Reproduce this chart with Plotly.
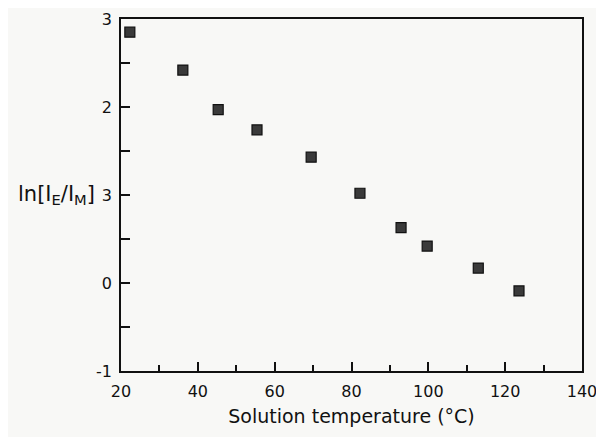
import plotly.graph_objects as go

temperature_c = [22.3, 36.1, 45.3, 55.4, 69.5, 82.2, 92.9, 99.7, 113.0, 123.6]
ln_ratio = [2.85, 2.42, 1.97, 1.74, 1.43, 1.02, 0.63, 0.42, 0.17, -0.09]

x_tickvals = [20, 40, 60, 80, 100, 120, 140]
x_ticktext = ["20", "40", "60", "80", "100", "120", "140"]
y_tickvals = [-1, 0, 1, 2, 3]
y_ticktext = ["-1", "0", "3", "2", "3"]

font_family = "DejaVu Sans"

fig = go.Figure()
fig.add_trace(go.Scatter(
    x=temperature_c, y=ln_ratio, mode="markers",
    marker=dict(symbol="square", size=10, color="#3a3a3a",
                line=dict(color="#111111", width=1.2)),
    showlegend=False, cliponaxis=False,
))

fig.update_layout(
    width=596, height=429,
    margin=dict(l=113, r=22, t=11, b=66),
    paper_bgcolor="#f8f8f6", plot_bgcolor="#f8f8f6",
    font=dict(family=font_family, size=16, color="#111111"),
    xaxis=dict(
        range=[20, 140], tickvals=x_tickvals, ticktext=x_ticktext,
        ticks="inside", ticklen=9, tickwidth=1.5, tickcolor="#111",
        minor=dict(ticks="inside", ticklen=6, dtick=10, tickwidth=1.5, tickcolor="#111"),
        showline=True, linecolor="#111", linewidth=1.8, mirror=True,
        showgrid=False, zeroline=False, ticklabelstandoff=5, automargin=False,
        title=dict(text="Solution temperature (°C)", font=dict(size=19), standoff=10),
    ),
    yaxis=dict(
        range=[-1, 3], tickvals=y_tickvals, ticktext=y_ticktext,
        ticks="inside", ticklen=9, tickwidth=1.5, tickcolor="#111",
        minor=dict(ticks="inside", ticklen=9, dtick=0.5, tickwidth=1.5, tickcolor="#111"),
        showline=True, linecolor="#111", linewidth=1.8, mirror=True,
        showgrid=False, zeroline=False, ticklabelstandoff=4, automargin=False,
    ),
    annotations=[dict(
        text="ln[I<sub>E</sub>/I<sub>M</sub>]", xref="paper", yref="paper",
        x=-0.052, y=0.5, xanchor="right", yanchor="middle", showarrow=False,
        font=dict(size=21),
    )],
)

fig.write_html("out.html")
